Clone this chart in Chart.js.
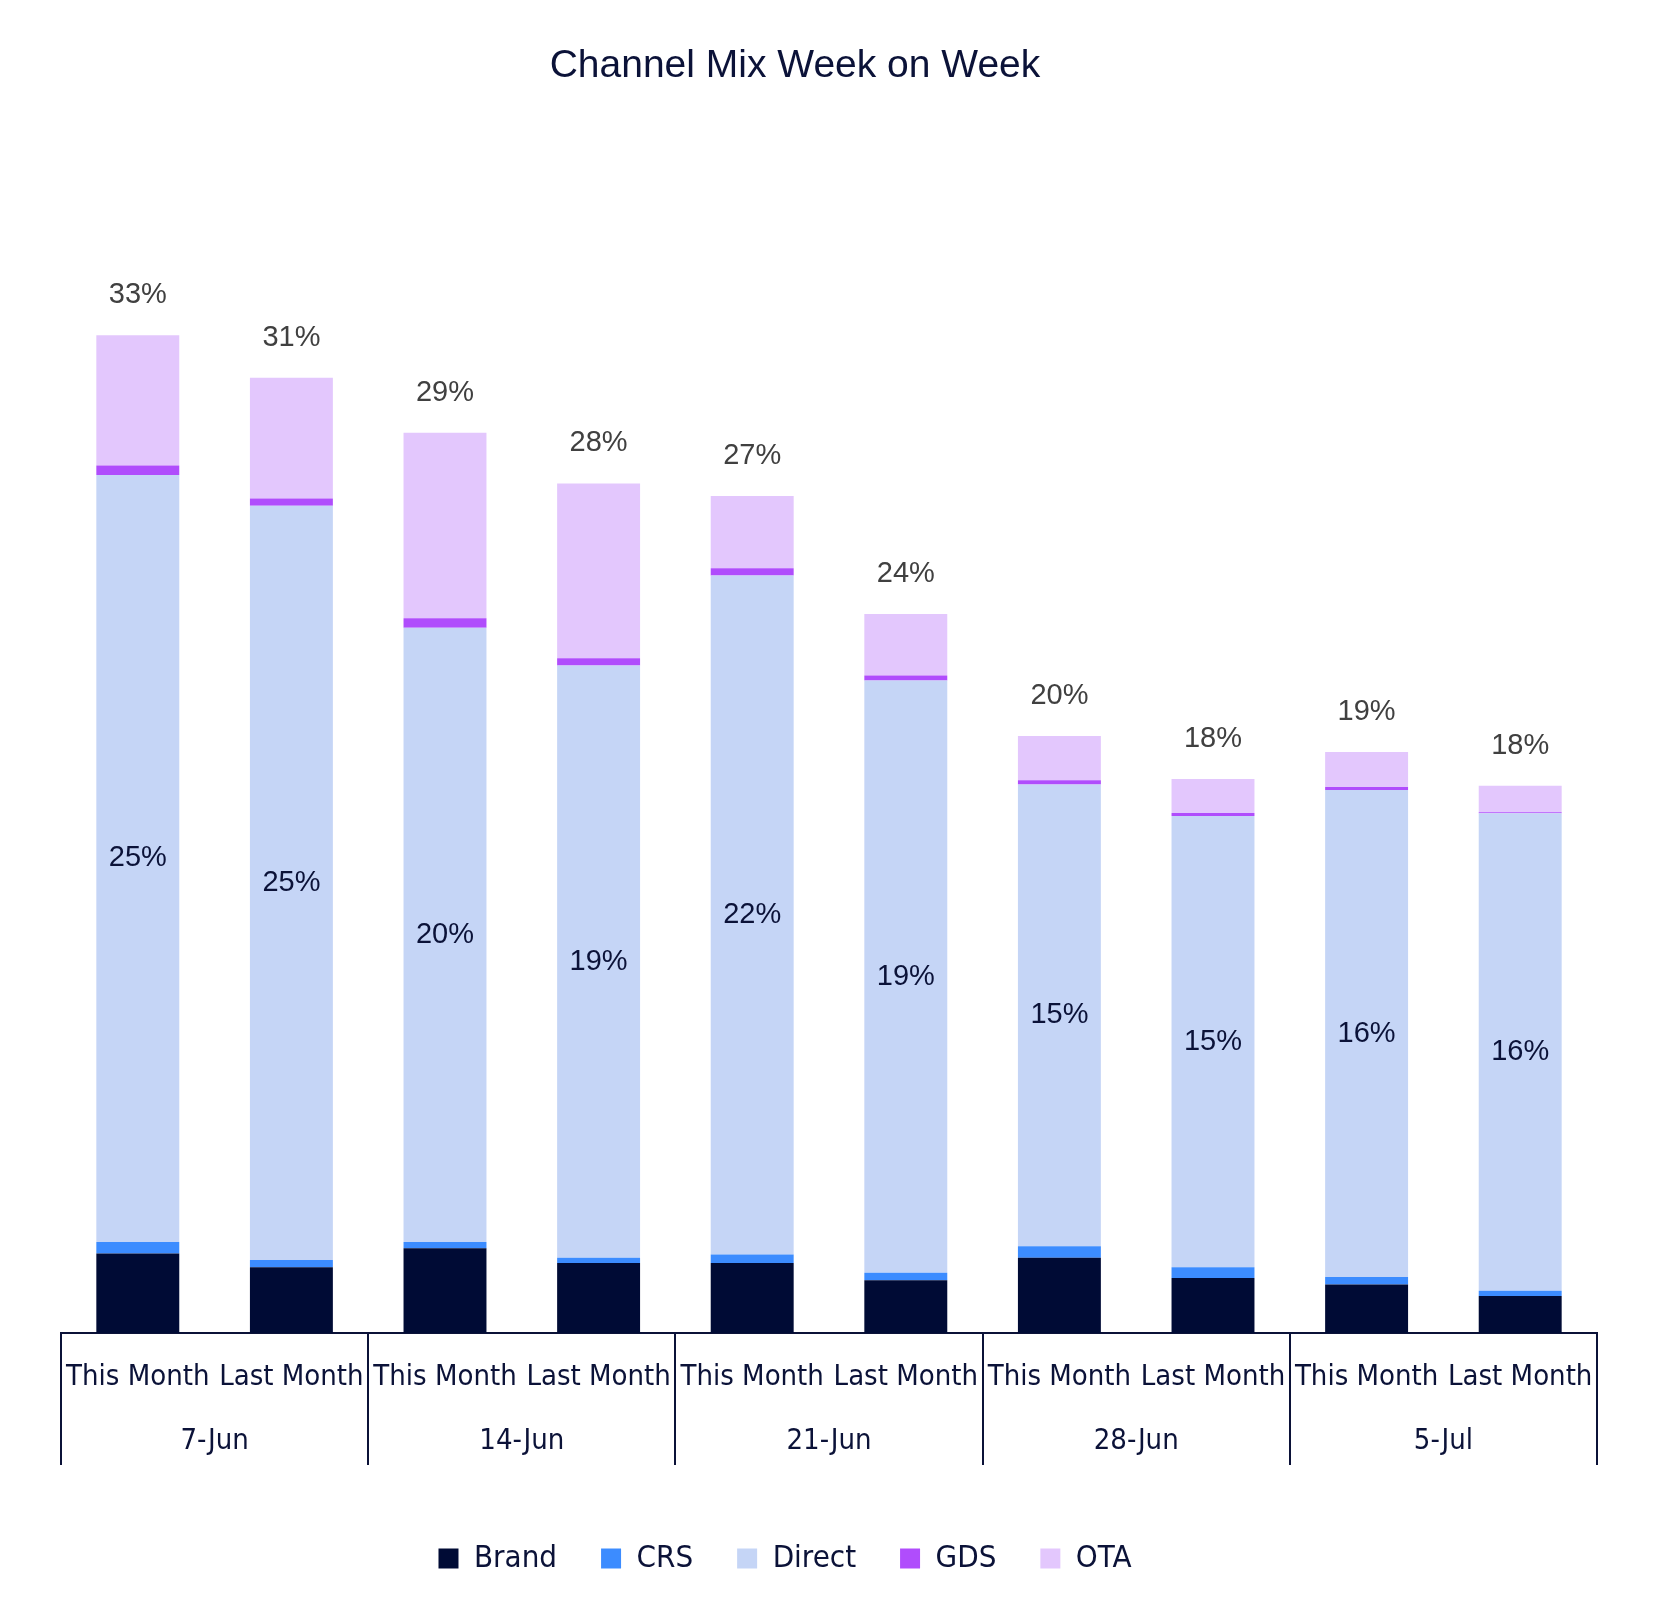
<!DOCTYPE html>
<html>
<head>
<meta charset="utf-8">
<script src="https://cdn.jsdelivr.net/npm/chart.js@4.4.1/dist/chart.umd.min.js"></script>
<style>
  html, body { margin: 0; padding: 0; background: #fff; }
</style>
</head>
<body>
<canvas id="myChart" width="1661" height="1606"></canvas>
<script>
const weeks = ['7-Jun', '14-Jun', '21-Jun', '28-Jun', '5-Jul'];
const periods = [
  'This Month', 'Last Month',
  'This Month', 'Last Month',
  'This Month', 'Last Month',
  'This Month', 'Last Month',
  'This Month', 'Last Month'
];

// share of bookings, in percent
const brand  = [2.60, 2.15, 2.77, 2.29, 2.29, 1.73, 2.46, 1.80, 1.59, 1.21];
const crs    = [0.38, 0.24, 0.21, 0.17, 0.28, 0.24, 0.38, 0.35, 0.24, 0.17];
const direct = [25.10, 24.68, 20.10, 19.38, 22.22, 19.38, 15.11, 14.77, 15.94, 15.63];
const gds    = [0.31, 0.24, 0.31, 0.24, 0.24, 0.17, 0.14, 0.10, 0.10, 0.03];
const ota    = [4.26, 3.95, 6.07, 5.72, 2.36, 2.01, 1.45, 1.11, 1.14, 0.87];

const navy = '#0b1238';
const narrow = '"Liberation Sans Narrow", "DejaVu Sans Condensed", "Liberation Sans", sans-serif';
const sans = '"Liberation Sans", Arial, sans-serif';

// value labels: direct share in the middle, total above each stack
const barLabels = {
  id: 'barLabels',
  afterDatasetsDraw(chart) {
    const ctx = chart.ctx;
    ctx.save();
    ctx.textAlign = 'center';
    ctx.textBaseline = 'middle';
    ctx.font = '29px ' + sans;

    ctx.fillStyle = navy;
    chart.getDatasetMeta(2).data.forEach(function (bar, i) {
      ctx.fillText(Math.round(direct[i]) + '%', bar.x, (bar.y + bar.base) / 2);
    });

    ctx.fillStyle = '#404040';
    chart.getDatasetMeta(4).data.forEach(function (bar, i) {
      const total = brand[i] + crs[i] + direct[i] + gds[i] + ota[i];
      ctx.fillText(Math.round(total) + '%', bar.x, bar.y - 40);
    });
    ctx.restore();
  }
};

// vertical separators between week groups under the axis
const groupLines = {
  id: 'groupLines',
  afterDraw(chart) {
    const x = chart.scales.x;
    const x2 = chart.scales.x2;
    const ctx = chart.ctx;
    ctx.save();
    ctx.strokeStyle = navy;
    ctx.lineWidth = 2;
    for (let i = 0; i <= weeks.length; i++) {
      const px = Math.round(x.left + i * x.width / weeks.length);
      ctx.beginPath();
      ctx.moveTo(px, x.top);
      ctx.lineTo(px, x2.top + 60);
      ctx.stroke();
    }
    ctx.restore();
  }
};

// title and legend sit a bit left of centre in the original
const shiftBoxes = {
  id: 'shiftBoxes',
  afterLayout(chart) {
    chart.titleBlock.left -= 34;
    chart.titleBlock.right -= 34;
    chart.legend.left -= 44;
    chart.legend.right -= 44;
  }
};

const data = {
  labels: periods,
  datasets: [
    { label: 'Brand',  data: brand,  backgroundColor: '#000b35' },
    { label: 'CRS',    data: crs,    backgroundColor: '#3c8cff' },
    { label: 'Direct', data: direct, backgroundColor: '#c5d5f6' },
    { label: 'GDS',    data: gds,    backgroundColor: '#b04dfc' },
    { label: 'OTA',    data: ota,    backgroundColor: '#e3c7fd' }
  ]
};

const config = {
  type: 'bar',
  data: data,
  options: {
    responsive: false,
    animation: false,
    datasets: {
      bar: { barPercentage: 0.54, categoryPercentage: 1.0, borderWidth: 0 }
    },
    layout: { padding: { left: 61, right: 64, top: 0, bottom: 22 } },
    scales: {
      x: {
        stacked: true,
        grid: { display: false, drawTicks: false },
        border: { display: true, color: navy, width: 2 },
        ticks: {
          color: navy, padding: 27, autoSkip: false, maxRotation: 0,
          font: { size: 29, family: narrow }
        },
        afterFit(scale) { scale.height = 72; }
      },
      x2: {
        type: 'category',
        labels: weeks,
        position: 'bottom',
        offset: true,
        grid: { display: false, drawTicks: false },
        border: { display: false },
        ticks: {
          color: navy, padding: 19, maxRotation: 0,
          font: { size: 29, family: narrow }
        },
        afterFit(scale) { scale.height = 94; }
      },
      y: { stacked: true, display: false, min: 0, max: 38 }
    },
    plugins: {
      title: {
        display: true,
        text: 'Channel Mix Week on Week',
        color: navy,
        font: { size: 39, weight: 'normal', family: sans },
        padding: { top: 43, bottom: 82 }
      },
      legend: {
        position: 'bottom',
        labels: {
          boxWidth: 20, boxHeight: 20, padding: 44, color: navy,
          font: { size: 31, family: narrow }
        }
      },
      tooltip: { enabled: false }
    }
  },
  plugins: [barLabels, groupLines, shiftBoxes]
};

var myChart = new Chart(document.getElementById('myChart'), config);
</script>
</body>
</html>
